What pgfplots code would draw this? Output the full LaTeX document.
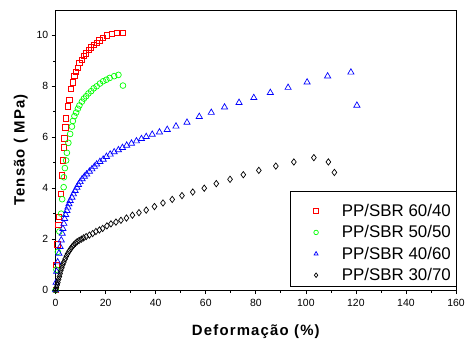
\documentclass[border=0pt]{standalone}
\usepackage{pgfplots}
\pgfplotsset{compat=1.18}
\usepackage{fontspec}
\setmainfont{Liberation Sans}
\newfontfamily\labfont[LetterSpace=8]{Liberation Sans}
\begin{document}
\begin{tikzpicture}
\begin{axis}[
  scale only axis, width=403pt, height=282pt,
  xmin=0, xmax=160, ymin=0, ymax=11,
  xtick={0,20,...,160}, ytick={0,2,...,10},
  minor xtick={10,30,...,150}, minor ytick={1,3,...,9},
  tick align=outside, xtick pos=bottom, ytick pos=left,
  major tick length=4pt, minor tick length=2.5pt,
  tick style={black, line width=0.7pt},
  axis line style={line width=0.8pt},
  /pgf/number format/assume math mode=true,
  ticklabel style={font=\fontsize{10.5}{12}\selectfont},
  xticklabel style={yshift=-2pt},
  xlabel={Deformação (\%)}, ylabel={Tensão ( MPa)},
  label style={font=\fontsize{15}{17}\selectfont\labfont\bfseries},
  xlabel style={yshift=-11pt},
  ylabel style={yshift=2pt},
  clip=false,
  legend style={draw=none, fill=none, at={(axis description cs:1,-0.004)}, anchor=south east,
    font=\fontsize{17}{19}\selectfont, row sep=3.7pt, inner xsep=3pt, inner ysep=7pt,
    cells={anchor=west}},
  legend cell align=left,
  legend image code/.code={\path[draw=none] (-20pt,0pt) -- (10pt,0pt); \draw[#1, only marks, mark size=2.3pt] plot coordinates {(-14pt,0pt)};},
]
\addplot[only marks, mark=square, mark size=2.7pt, red, line width=0.7pt] coordinates {
(0,0) (0.3,1.0) (0.7,1.8) (1.1,2.55) (1.4,2.87) (2.2,3.78) (2.6,4.5) (3.0,5.1) (3.3,5.6) (3.5,5.96) (3.9,6.39) (4.2,6.74) (5.0,7.22) (5.5,7.48) (6.2,7.9) (6.8,8.16) (7.5,8.4) (8.1,8.58) (8.8,8.72) (9.5,8.91) (10.5,9.04) (11.3,9.2) (12.2,9.3) (13.2,9.43) (14.2,9.53) (15.2,9.62) (16.4,9.72) (17.5,9.81) (18.8,9.91) (20.5,10.0) (22.4,10.07) (24.5,10.11) (26.9,10.09)
};
\addlegendentry{PP/SBR 60/40}
\addplot[only marks, mark=o, mark size=2.9pt, green, line width=0.7pt] coordinates {
(0,0) (0.3,0.8) (0.9,1.5) (1.5,2.3) (2.2,3.0) (2.6,3.57) (3.2,4.04) (3.3,4.43) (3.7,4.79) (4.2,5.09) (4.5,5.39) (5.1,5.78) (5.8,6.13) (6.5,6.42) (6.9,6.64) (7.5,6.83) (8.2,6.97) (8.9,7.12) (9.5,7.25) (10.5,7.4) (11.3,7.52) (12.2,7.61) (13.1,7.72) (14.2,7.81) (15.2,7.92) (16.4,8.0) (17.7,8.11) (19.0,8.2) (20.3,8.26) (21.6,8.33) (23.4,8.4) (25.1,8.45) (26.9,8.03)
};
\addlegendentry{PP/SBR 50/50}
\addplot[only marks, mark=triangle, mark size=3.6pt, blue, line width=0.7pt] coordinates {
(0,0) (0.2,0.3) (0.4,0.73) (0.8,1.1) (1.3,1.44) (1.8,1.7) (2.25,1.96) (2.65,2.22) (2.9,2.41) (3.3,2.61) (3.6,2.8) (4.0,2.96) (4.5,3.12) (4.9,3.25) (5.3,3.38) (5.8,3.51) (6.5,3.64) (7.1,3.77) (7.8,3.9) (8.5,4.03) (9.1,4.14) (9.8,4.25) (10.6,4.36) (11.5,4.46) (12.4,4.55) (13.5,4.66) (14.5,4.75) (15.5,4.85) (16.4,4.94) (17.7,5.04) (19.0,5.13) (20.3,5.24) (21.8,5.33) (23.4,5.42) (25.1,5.5) (26.7,5.59) (28.4,5.68) (30.3,5.76) (32.3,5.85) (34.3,5.94) (36.2,6.02) (38.6,6.11) (41.5,6.2) (44.6,6.3) (48.1,6.43) (52.5,6.58) (57.4,6.81) (62.2,6.97) (67.5,7.18) (73.3,7.36) (79.2,7.55) (85.8,7.75) (92.9,7.95) (100.5,8.16) (108.7,8.4) (118,8.55) (120.4,7.25)
};
\addlegendentry{PP/SBR 40/60}
\addplot[only marks, mark=diamond, mark size=3.2pt, black, line width=0.7pt] coordinates {
(0,0) (0.3,0.1) (0.6,0.2) (0.9,0.3) (1.2,0.42) (1.5,0.53) (1.8,0.65) (2.1,0.77) (2.5,0.88) (2.9,1.0) (3.3,1.1) (3.8,1.22) (4.3,1.33) (4.8,1.43) (5.4,1.53) (6.0,1.62) (6.6,1.7) (7.2,1.77) (7.9,1.84) (8.6,1.9) (9.4,1.95) (10.3,2.0) (11.2,2.05) (12.2,2.1) (13.5,2.16) (14.8,2.22) (16.1,2.3) (17.5,2.36) (18.8,2.42) (20.5,2.52) (22.1,2.6) (24.1,2.67) (26.1,2.74) (28.3,2.83) (30.7,2.94) (33.3,3.04) (36.2,3.14) (39.5,3.28) (42.9,3.42) (46.6,3.56) (50.5,3.71) (54.8,3.85) (59.4,4.0) (64.2,4.18) (69.7,4.35) (75.0,4.53) (81.2,4.7) (88.0,4.87) (95.2,5.03) (103.2,5.2) (109.0,5.03) (111.4,4.62)
};
\addlegendentry{PP/SBR 30/70}
\draw[line width=0.7pt] (rel axis cs:0.5856,0.0142) rectangle (rel axis cs:1,0.351);
\coordinate (O) at (rel axis cs:0,0);
\end{axis}
\useasboundingbox (O) ++(-56pt,-46pt) rectangle ++(468pt,338pt);
\end{tikzpicture}
\end{document}
